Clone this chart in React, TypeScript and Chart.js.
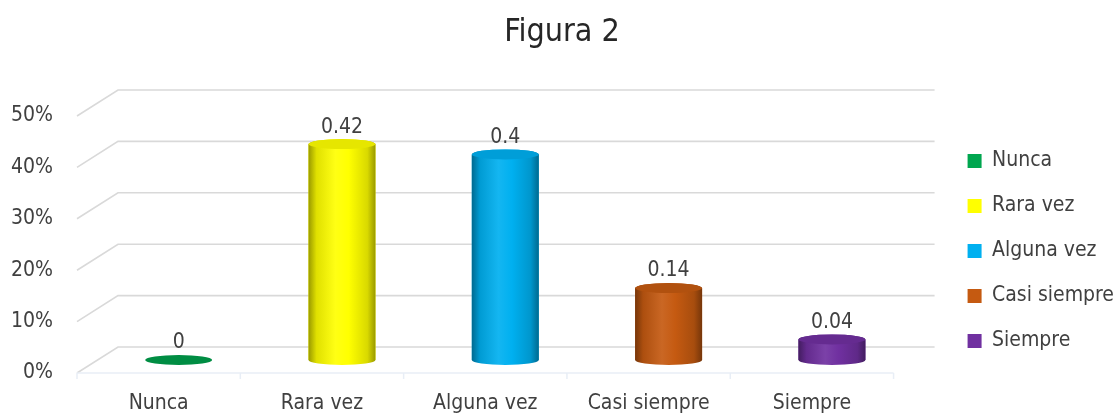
import React, { useEffect, useRef } from "react";
import { Chart, registerables } from "chart.js";

Chart.register(...registerables);

// ---- data ----
const title = "Figura 2";
const categories = ["Nunca", "Rara vez", "Alguna vez", "Casi siempre", "Siempre"];
const values = [0, 0.42, 0.4, 0.14, 0.04];
const valueLabels = ["0", "0.42", "0.4", "0.14", "0.04"];
const yTickLabels = ["0%", "10%", "20%", "30%", "40%", "50%"];
const colors = ["#00A64F", "#FFFF00", "#00B0F0", "#C55A11", "#7030A0"];

// ---- style ----
const FONT = "'DejaVu Sans Condensed', 'Liberation Sans Narrow', Lato, sans-serif";
const TEXT = "#404040";
const FS = 21;
const DX = 20; // bar depth offset (middle of depth)
const DY = -13;
const BACK_DX = 41;
const BACK_DY = -26;
const RY = 5;

function shade(hex: string, f: number): string {
  const n = parseInt(hex.slice(1), 16);
  let r = (n >> 16) & 255, g = (n >> 8) & 255, b = n & 255;
  if (f < 0) {
    r = Math.round(r * (1 + f)); g = Math.round(g * (1 + f)); b = Math.round(b * (1 + f));
  } else {
    r = Math.round(r + (255 - r) * f); g = Math.round(g + (255 - g) * f); b = Math.round(b + (255 - b) * f);
  }
  return `rgb(${r},${g},${b})`;
}

const cylinderPlugin = {
  id: "cyl3d",
  beforeDatasetsDraw(chart: any) {
    const { ctx, chartArea, scales } = chart;
    const ys = scales.y;
    const { left, right, bottom } = chartArea;
    ctx.save();
    ctx.strokeStyle = "#d9d9d9";
    ctx.lineWidth = 1.6;
    ys.ticks.forEach((t: any) => {
      const py = ys.getPixelForValue(t.value);
      ctx.beginPath();
      ctx.moveTo(left, py);
      ctx.lineTo(left + BACK_DX, py + BACK_DY);
      ctx.lineTo(right + BACK_DX, py + BACK_DY);
      ctx.stroke();
    });
    ctx.strokeStyle = "#e8eef6";
    ctx.lineWidth = 1.5;
    ctx.beginPath();
    ctx.moveTo(left, bottom);
    ctx.lineTo(right, bottom);
    ctx.stroke();
    const n = categories.length;
    for (let i = 0; i <= n; i++) {
      const bx = left + (i * (right - left)) / n;
      ctx.beginPath();
      ctx.moveTo(bx, bottom);
      ctx.lineTo(bx, bottom + 6);
      ctx.stroke();
    }
    ctx.restore();
    ctx.save();
    ctx.translate(DX, DY);
  },
  afterDatasetsDraw(chart: any) {
    const { ctx } = chart;
    const meta = chart.getDatasetMeta(0);
    meta.data.forEach((el: any, i: number) => {
      const c = colors[i];
      const w = el.width;
      const x = el.x;
      const top = el.y;
      const base = el.base;
      const l = x - w / 2;
      const r = x + w / 2;
      if (Math.abs(base - top) < 1) {
        ctx.fillStyle = shade(c, -0.15);
        ctx.beginPath();
        ctx.ellipse(x, base, w / 2, RY, 0, 0, Math.PI * 2);
        ctx.fill();
      } else {
        const g = ctx.createLinearGradient(l, 0, r, 0);
        g.addColorStop(0, shade(c, -0.4));
        g.addColorStop(0.12, shade(c, -0.12));
        g.addColorStop(0.4, shade(c, 0.08));
        g.addColorStop(0.6, c);
        g.addColorStop(0.88, shade(c, -0.15));
        g.addColorStop(1, shade(c, -0.4));
        ctx.fillStyle = g;
        ctx.beginPath();
        ctx.moveTo(l, top);
        ctx.lineTo(l, base);
        ctx.ellipse(x, base, w / 2, RY, 0, Math.PI, 0, true);
        ctx.lineTo(r, top);
        ctx.ellipse(x, top, w / 2, RY, 0, 0, Math.PI, true);
        ctx.closePath();
        ctx.fill();
        ctx.fillStyle = shade(c, -0.1);
        ctx.beginPath();
        ctx.ellipse(x, top, w / 2, RY, 0, 0, Math.PI * 2);
        ctx.fill();
      }
      ctx.fillStyle = TEXT;
      ctx.font = `${FS}px ${FONT}`;
      ctx.textAlign = "center";
      ctx.textBaseline = "middle";
      ctx.fillText(valueLabels[i], x, top - RY - 12);
    });
    ctx.restore();
  },
};

export default function App() {
  const ref = useRef<HTMLCanvasElement | null>(null);
  useEffect(() => {
    document.body.style.margin = "0";
    if (!ref.current) return;
    const chart = new Chart(ref.current, {
      type: "bar",
      data: {
        labels: categories,
        datasets: [
          {
            data: values,
            backgroundColor: colors,
            borderWidth: 0,
            barPercentage: 0.41,
            categoryPercentage: 1,
            clip: false as any,
          },
        ],
      },
      options: {
        animation: false,
        responsive: true,
        maintainAspectRatio: false,
        layout: { padding: { left: 0, top: 0, bottom: 0, right: -6 } },
        plugins: {
          title: {
            display: true,
            text: title,
            color: "#262626",
            font: { family: FONT, size: 32, weight: "normal" as any },
            padding: { top: 13, bottom: 64.6 },
          },
          legend: {
            position: "right",
            align: "center",
            onClick: () => {},
            title: {
              display: true,
              text: "",
              font: { family: FONT, size: 10, lineHeight: 1 },
              padding: 38,
            },
            labels: {
              boxWidth: 14,
              boxHeight: 14,
              padding: 24,
              color: TEXT,
              font: { family: FONT, size: FS },
              generateLabels: () =>
                categories.map((c, i) => ({
                  text: c,
                  fillStyle: colors[i],
                  strokeStyle: colors[i],
                  lineWidth: 0,
                  hidden: false,
                  index: i,
                  datasetIndex: 0,
                  fontColor: TEXT,
                })),
            },
          },
          tooltip: { enabled: false },
        },
        scales: {
          x: {
            grid: { display: false },
            border: { display: false },
            ticks: { padding: 10, color: TEXT, font: { family: FONT, size: FS }, maxRotation: 0, autoSkip: false },
            afterFit: (s: any) => {
              s.height = 43;
            },
          },
          y: {
            min: 0,
            max: 0.5,
            grid: { display: false },
            border: { display: false },
            ticks: {
              stepSize: 0.1,
              padding: 16,
              color: TEXT,
              font: { family: FONT, size: FS },
              callback: (_v: any, i: number) => yTickLabels[i],
            },
            afterFit: (s: any) => {
              s.width = 77;
            },
          },
          y2: {
            position: "right",
            min: 0,
            max: 1,
            grid: { display: false },
            border: { display: false },
            ticks: { display: false },
            afterFit: (s: any) => {
              s.width = 50;
            },
          },
        },
      },
      plugins: [cylinderPlugin],
    });
    return () => chart.destroy();
  }, []);
  return (
    <div style={{ width: 1118, height: 416, position: "relative" }}>
      <canvas ref={ref} />
    </div>
  );
}
